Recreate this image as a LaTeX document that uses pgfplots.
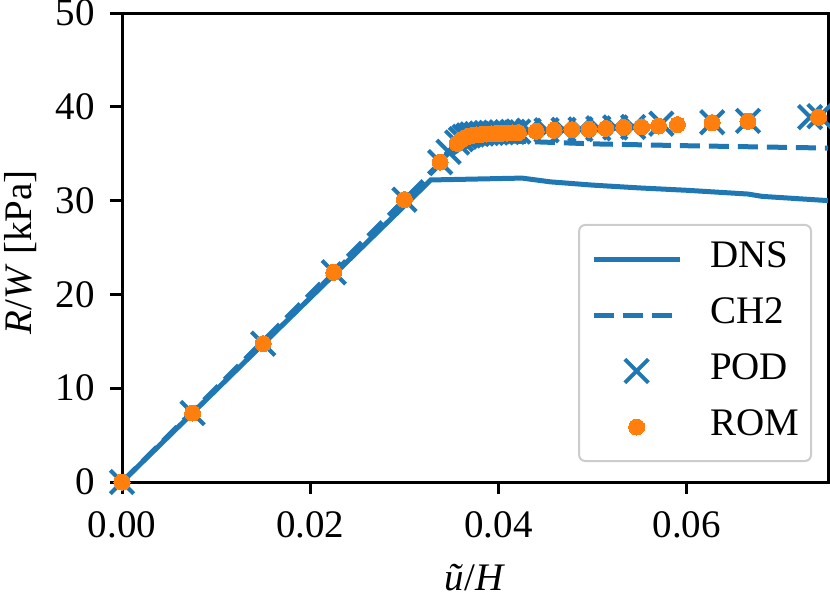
\documentclass[border=0pt]{standalone}
\usepackage{pgfplots}
\pgfplotsset{compat=1.18}
\usepackage{fontspec}
\setmainfont{Liberation Serif}
\definecolor{mblue}{HTML}{1F77B4}
\definecolor{morange}{HTML}{FF7F0E}
\newcommand{\fs}{\fontsize{19.5bp}{23bp}\selectfont}
\pgfplotsset{
  lineleg/.style={legend image code/.code={\draw[##1] (0bp,0bp) -- (43bp,0bp);}},
  markleg/.style={legend image code/.code={\draw[##1] plot coordinates {(21.5bp,0bp)};}},
}
\begin{document}
\begin{tikzpicture}
\begin{axis}[
  scale only axis, width=353bp, height=234.5bp,
  xmin=0, xmax=0.075, ymin=0, ymax=50,
  xtick={0,0.02,0.04,0.06}, ytick={0,10,20,30,40,50},
  scaled x ticks=false,
  /pgf/number format/assume math mode=true,
  tick label style={font=\fs},
  x tick label style={/pgf/number format/fixed, /pgf/number format/fixed zerofill, /pgf/number format/precision=2,
    /tikz/anchor=base, /tikz/inner sep=0pt, /tikz/yshift=-21.5bp},
  y tick label style={/tikz/anchor=east, /tikz/inner sep=0pt, /tikz/xshift=-7.5bp},
  label style={font=\fs},
  tick align=outside, tick pos=left,
  major tick length=6bp,
  every tick/.style={black, line width=1.5bp},
  axis line style={black, line width=1.5bp},
  xlabel={\textit{ũ}/\textit{H}},
  ylabel={\textit{R}/\textit{W} [kPa]},
  xlabel style={at={([yshift=-54bp]axis description cs:0.5,0)}, anchor=base},
  ylabel style={at={([xshift=-45bp]axis description cs:0,0.49)}, anchor=base},
  legend style={at={([xshift=-8bp,yshift=10bp]axis description cs:1,0)}, anchor=south east,
    draw=black!20, line width=1bp, rounded corners=3bp, fill=white, font=\fs,
    inner xsep=6bp, inner ysep=8bp, row sep=10bp,
    nodes={inner sep=0pt, text height=13bp, text depth=5bp}},
  legend cell align=left,
  /tikz/every odd column/.append style={column sep=14bp},
]
\addplot[mblue, line width=2.5bp, lineleg] coordinates {
(0,0) (0.0328,32.2) (0.0425,32.4) (0.0455,32.0) (0.050,31.65) (0.055,31.35) (0.060,31.1) (0.0665,30.7) (0.068,30.45) (0.075,30.0)
};
\addlegendentry{DNS}
\addplot[mblue, line width=2.5bp, dash pattern=on 10bp off 4.5bp, lineleg] coordinates {
(0,0) (0.0330,33.1) (0.0345,34.6) (0.036,35.6) (0.038,36.2) (0.040,36.4) (0.043,36.3) (0.050,36.05) (0.060,35.85) (0.075,35.6)
};
\addlegendentry{CH2}
\addplot[mblue, only marks, mark=x, mark size=8.3bp, mark options={line width=2bp}, markleg] coordinates {
(0,0) (0.0075,7.35) (0.0150,14.75) (0.0225,22.35) (0.0300,30.1) (0.0338,34.1)
(0.0347,35.2) (0.0356,36.2) (0.0360,36.55) (0.0364,36.8) (0.0368,36.95) (0.0372,37.05) (0.0377,37.1) (0.0382,37.15) (0.0387,37.2) (0.0392,37.22) (0.0397,37.25) (0.0403,37.28) (0.0409,37.3) (0.0415,37.33) (0.0421,37.36)
(0.0432,37.45) (0.0451,37.5) (0.0469,37.55) (0.0487,37.6) (0.0506,37.7) (0.0524,37.8) (0.0543,37.85) (0.0573,38.2) (0.0627,38.35) (0.0665,38.5) (0.0731,38.9) (0.0741,39.0)
};
\addlegendentry{POD}
\addplot[morange, only marks, mark=*, mark size=4bp, mark options={draw=morange, fill=morange, line width=0pt}, markleg] coordinates {
(0,0) (0.0075,7.35) (0.0150,14.75) (0.0225,22.35) (0.0300,30.1) (0.0338,34.1)
(0.0356,36.1) (0.0360,36.45) (0.0364,36.7) (0.0368,36.85) (0.0372,36.95) (0.0377,37.0) (0.0382,37.05) (0.0387,37.1) (0.0392,37.12) (0.0397,37.15) (0.0403,37.17) (0.0409,37.2) (0.0415,37.22) (0.0421,37.25)
(0.0440,37.4) (0.0459,37.5) (0.0478,37.55) (0.0496,37.6) (0.0514,37.7) (0.0533,37.8) (0.0552,37.85) (0.0570,37.95) (0.0590,38.1) (0.0627,38.3) (0.0665,38.45) (0.0740,38.9)
};
\addlegendentry{ROM}
\end{axis}
\pgfresetboundingbox
\path ([shift={(-61bp,-59.5bp)}]current axis.south west) rectangle ([shift={(1bp,6.5bp)}]current axis.north east);
\end{tikzpicture}
\end{document}
